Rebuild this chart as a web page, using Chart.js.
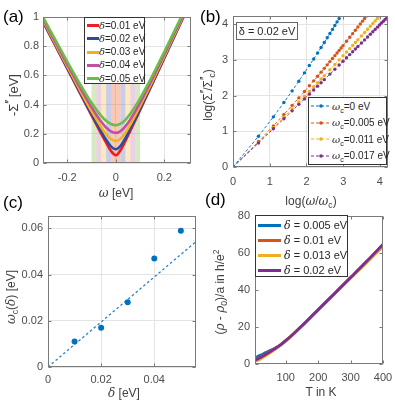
<!DOCTYPE html>
<html>
<head>
<meta charset="utf-8">
<script src="https://cdn.jsdelivr.net/npm/chart.js@4.4.1/dist/chart.umd.min.js"></script>
<style>
body { margin: 0; background: #fff; }
#fig { position: relative; width: 395px; height: 406px; overflow: hidden; background: #fff;
       font-family: "Liberation Sans", Arial, sans-serif; color: #404040; }
canvas { position: absolute; }
.lbl { position: absolute; white-space: nowrap; line-height: 1; }
.c { transform: translate(-50%, -50%); }
.r { transform: translate(-50%, -50%) rotate(-90deg); }
.pan { font-size: 17px; color: #000; }
.ax { font-size: 12px; }
.g { font-family: "DejaVu Serif", "Liberation Serif", serif; font-style: italic; }
.leg { position: absolute; background: #fff; border: 1px solid #333; box-sizing: border-box; }
.row { position: absolute; display: flex; align-items: center; white-space: nowrap; height: 12px; color: #262626; }
sub, sup { font-size: 72%; line-height: 0; }
sup.p { font-size: 100%; vertical-align: 0.25em; letter-spacing: -1px; }
</style>
</head>
<body>
<div id="fig">
  <canvas id="cA" width="197" height="192" style="left:0;top:0"></canvas>
  <canvas id="cB" width="198" height="190" style="left:197px;top:0"></canvas>
  <canvas id="cC" width="200" height="195" style="left:0;top:205px"></canvas>
  <canvas id="cD" width="195" height="195" style="left:200px;top:205px"></canvas>

  <div class="lbl pan" style="left:3px;top:8px">(a)</div>
  <div class="lbl pan" style="left:200px;top:8px">(b)</div>
  <div class="lbl pan" style="left:3px;top:194px">(c)</div>
  <div class="lbl pan" style="left:205px;top:191px">(d)</div>

  <div class="lbl ax r" style="left:13px;top:95px;font-size:13px">-Σ<sup class="p">′′</sup> [eV]</div>
  <div class="lbl ax c" style="left:116px;top:193px"><span class="g">ω</span> [eV]</div>
  <div class="lbl ax r" style="left:208px;top:95px">log(Σ<sup class="p">′′</sup>/Σ<sup class="p">′′</sup><sub>c</sub>)</div>
  <div class="lbl ax c" style="left:311px;top:201px">log(<span class="g">ω</span>/<span class="g">ω</span><sub>c</sub>)</div>
  <div class="lbl ax r" style="left:11px;top:297px"><span class="g">ω</span><sub>c</sub>(<span class="g">δ</span>) [eV]</div>
  <div class="lbl ax c" style="left:124px;top:393px"><span class="g">δ</span> [eV]</div>
  <div class="lbl ax r" style="left:220px;top:292px">(<span class="g">ρ</span> - <span class="g">ρ</span><sub>0</sub>)/a in h/e<sup>2</sup></div>
  <div class="lbl ax c" style="left:321px;top:392px">T in K</div>

  <div class="leg" id="legA" style="left:84px;top:17px;width:61px;height:67px"></div>
  <div class="leg" style="left:236px;top:22px;width:62px;height:18px;border-color:#666;font-size:11px;text-align:center;line-height:16px;color:#262626">δ = 0.02 eV</div>
  <div class="leg" id="legB" style="left:308px;top:97px;width:79px;height:68px"></div>
  <div class="leg" id="legD" style="left:255px;top:215px;width:93px;height:62px"></div>
</div>

<script>
// (a) -Sigma'' vs omega, one curve per delta
const omegaA = [-0.3, -0.25, -0.2, -0.15, -0.12, -0.09, -0.06, -0.04, -0.02, 0, 0.02, 0.04, 0.06, 0.09, 0.12, 0.15, 0.2, 0.25, 0.3];
const sigmaD01 = [0.967, 0.807, 0.646, 0.486, 0.390, 0.295, 0.200, 0.139, 0.083, 0.053, 0.089, 0.152, 0.221, 0.326, 0.433, 0.539, 0.718, 0.897, 1.075];
const sigmaD02 = [0.970, 0.810, 0.651, 0.492, 0.397, 0.305, 0.215, 0.159, 0.114, 0.094, 0.118, 0.171, 0.235, 0.335, 0.440, 0.545, 0.722, 0.900, 1.078];
const sigmaD03 = [0.978, 0.819, 0.662, 0.506, 0.414, 0.327, 0.245, 0.198, 0.164, 0.151, 0.167, 0.208, 0.263, 0.356, 0.456, 0.557, 0.732, 0.908, 1.084];
const sigmaD04 = [0.988, 0.831, 0.676, 0.525, 0.437, 0.356, 0.282, 0.243, 0.216, 0.206, 0.218, 0.251, 0.298, 0.382, 0.477, 0.575, 0.745, 0.918, 1.093];
const sigmaD05 = [1.000, 0.846, 0.694, 0.548, 0.465, 0.389, 0.323, 0.289, 0.267, 0.259, 0.269, 0.296, 0.337, 0.413, 0.502, 0.596, 0.762, 0.932, 1.105];
const deltaLabelsA = ['0.01', '0.02', '0.03', '0.04', '0.05'];
const bandInner = [0, 0.02, 0.04, 0.06, 0.08];
const bandOuter = [0.02, 0.04, 0.06, 0.08, 0.10];

// (b) log-log scaling, delta = 0.02 eV
const xB0 = [0, 0.693, 1.099, 1.386, 1.609, 1.792, 1.946, 2.079, 2.197, 2.303, 2.398, 2.485, 2.565, 2.639, 2.708, 2.773, 2.833, 2.890, 2.944];
const yB0 = [0, 0.861, 1.405, 1.808, 2.132, 2.404, 2.637, 2.842, 3.027, 3.195, 3.347, 3.488, 3.619, 3.741, 3.855, 3.964, 4.065, 4.162, 4.254];
const xB1 = [0, 0.693, 1.099, 1.386, 1.609, 1.792, 1.946, 2.079, 2.197, 2.303, 2.398, 2.485, 2.565, 2.639, 2.708, 2.773, 2.833, 2.890, 2.944, 2.996, 3.091, 3.178, 3.258, 3.332, 3.401, 3.466, 3.526, 3.584, 3.638];
const yB1 = [0, 0.715, 1.153, 1.472, 1.726, 1.936, 2.116, 2.274, 2.414, 2.541, 2.657, 2.763, 2.861, 2.952, 3.038, 3.119, 3.194, 3.266, 3.334, 3.400, 3.521, 3.633, 3.736, 3.832, 3.922, 4.007, 4.086, 4.162, 4.234];
const xB2 = [0, 0.693, 1.099, 1.386, 1.609, 1.792, 1.946, 2.079, 2.197, 2.303, 2.398, 2.485, 2.639, 2.773, 2.890, 2.996, 3.091, 3.178, 3.258, 3.332, 3.401, 3.497, 3.584, 3.664, 3.738, 3.807, 3.871, 3.932, 3.989, 4.043];
const yB2 = [0, 0.689, 1.101, 1.397, 1.629, 1.820, 1.983, 2.124, 2.250, 2.363, 2.465, 2.559, 2.725, 2.871, 2.999, 3.116, 3.220, 3.316, 3.405, 3.487, 3.564, 3.672, 3.769, 3.859, 3.943, 4.021, 4.093, 4.163, 4.228, 4.289];
const xB3 = [0, 0.693, 1.099, 1.386, 1.609, 1.792, 1.946, 2.079, 2.197, 2.303, 2.398, 2.485, 2.639, 2.773, 2.890, 2.996, 3.091, 3.178, 3.258, 3.332, 3.401, 3.497, 3.584, 3.664, 3.738, 3.807, 3.871, 3.932, 3.989, 4.043, 4.094, 4.143, 4.190, 4.234];
const yB3 = [0, 0.673, 1.070, 1.353, 1.573, 1.755, 1.908, 2.041, 2.159, 2.265, 2.360, 2.447, 2.602, 2.737, 2.856, 2.963, 3.059, 3.148, 3.229, 3.304, 3.375, 3.472, 3.561, 3.643, 3.719, 3.790, 3.855, 3.918, 3.977, 4.032, 4.085, 4.135, 4.184, 4.229];
const omegaCLabels = ['0', '0.005', '0.011', '0.017'];

// (c) omega_c vs delta
const deltaC = [0.01, 0.02, 0.03, 0.04, 0.05];
const omegaC = [0.011, 0.017, 0.028, 0.047, 0.059];
const fitX = [0, 0.0557];
const fitY = [0, 0.0543];

// (d) resistivity vs temperature
const tempD = [5, 15, 25, 35, 45, 55, 65, 75, 85, 100, 125, 150, 175, 200, 250, 300, 350, 400];
const rhoD005 = [3.2, 4.2, 5.0, 5.9, 6.8, 7.6, 8.4, 9.3, 10.5, 12.6, 16.5, 20.7, 25.0, 29.3, 38.0, 46.7, 55.5, 64.6];
const rhoD010 = [2.4, 3.1, 4.0, 5.0, 6.1, 7.2, 8.2, 9.3, 10.5, 12.6, 16.5, 20.7, 25.0, 29.3, 38.0, 46.6, 55.3, 64.2];
const rhoD013 = [1.4, 2.1, 3.0, 4.1, 5.2, 6.4, 7.7, 9.0, 10.4, 12.5, 16.4, 20.6, 24.9, 29.2, 37.8, 46.3, 54.9, 63.5];
const rhoD020 = [2.1, 2.9, 3.8, 4.8, 5.9, 7.0, 8.1, 9.3, 10.5, 12.6, 16.5, 20.7, 25.0, 29.3, 38.0, 46.7, 55.5, 64.6];
const deltaLabelsD = ['0.005', '0.01', '0.013', '0.02'];

const FONT = '"Liberation Sans", Arial, sans-serif';
const colorsA = ['#ee1d23', '#2e4a9c', '#f3b21b', '#c1519f', '#6cbd45'];
const bandColors = ['rgba(238,98,46,0.35)', 'rgba(98,112,189,0.35)', 'rgba(246,195,69,0.35)', 'rgba(201,121,178,0.35)', 'rgba(138,195,86,0.35)'];
const matlab = ['#0072bd', '#d95319', '#edb120', '#7e2f8e'];

Chart.defaults.animation = false;
Chart.defaults.font.family = FONT;

const toXY = (xs, ys) => xs.map((v, i) => ({ x: v, y: ys[i] }));

// box round the plot area + short inward ticks, like matlab
const boxPlugin = {
  id: 'box',
  afterDatasetsDraw(chart) {
    const { ctx, chartArea: a, scales: { x, y } } = chart;
    const L = Math.round(a.left) + 0.5, R = Math.round(a.right) - 0.5;
    const T = Math.round(a.top) + 0.5, B = Math.round(a.bottom) - 0.5;
    ctx.save();
    ctx.strokeStyle = '#7a7a7a';
    ctx.lineWidth = 1;
    ctx.strokeRect(L, T, R - L, B - T);
    ctx.beginPath();
    x.ticks.forEach(t => {
      const p = Math.round(x.getPixelForValue(t.value)) + 0.5;
      ctx.moveTo(p, B); ctx.lineTo(p, B - 3);
      ctx.moveTo(p, T); ctx.lineTo(p, T + 3);
    });
    y.ticks.forEach(t => {
      const p = Math.round(y.getPixelForValue(t.value)) + 0.5;
      ctx.moveTo(L, p); ctx.lineTo(L + 3, p);
      ctx.moveTo(R, p); ctx.lineTo(R - 3, p);
    });
    ctx.stroke();
    ctx.restore();
  }
};

// coloured omega windows behind the curves in (a)
const bandPlugin = {
  id: 'bands',
  beforeDatasetsDraw(chart) {
    const { ctx, scales: { x, y } } = chart;
    const top = y.getPixelForValue(1), bot = y.getPixelForValue(0);
    ctx.save();
    bandInner.forEach((w0, i) => {
      const w1 = bandOuter[i];
      ctx.fillStyle = bandColors[i];
      [[w0, w1], [-w1, -w0]].forEach(([u, v]) => {
        const p0 = x.getPixelForValue(u), p1 = x.getPixelForValue(v);
        ctx.fillRect(p0, top, p1 - p0, bot - top);
      });
    });
    ctx.restore();
  }
};

function axis(min, max, ticks, pad, grid, fit) {
  return {
    type: 'linear', min: min, max: max,
    grid: { display: grid, color: '#e4e4e4', drawTicks: false },
    border: { display: false },
    ticks: { padding: pad, autoSkip: false, maxRotation: 0, color: '#4d4d4d', font: { size: 11 }, callback: v => String(v) },
    afterBuildTicks: s => { s.ticks = ticks.map(v => ({ value: v })); },
    afterFit: s => {
      fit(s);
      s.paddingLeft = s.paddingRight = s.paddingTop = s.paddingBottom = 0;
    }
  };
}

// box = canvas position, area = wanted plot area (page pixels)
function painel(canvasId, box, area, xs, ys, datasets, extra) {
  const yW = area.left - box.x, xH = 20;
  // later series are drawn on top, as in matlab
  datasets.forEach((d, i) => { d.order = -i; });
  new Chart(document.getElementById(canvasId), {
    type: 'scatter',
    data: { datasets: datasets },
    options: {
      responsive: false,
      devicePixelRatio: 1,
      layout: { padding: { left: 0, top: area.top - box.y, right: box.x + box.w - area.right, bottom: box.y + box.h - area.bottom - xH } },
      plugins: { legend: { display: false }, tooltip: { enabled: false } },
      scales: {
        x: axis(xs.min, xs.max, xs.ticks, xs.pad, xs.grid, s => { s.height = xH; }),
        y: axis(ys.min, ys.max, ys.ticks, ys.pad, ys.grid, s => { s.width = yW; })
      }
    },
    plugins: [boxPlugin].concat(extra || [])
  });
}

const lineSet = (xs, ys, color, width) => ({
  data: toXY(xs, ys), showLine: true, borderColor: color, borderWidth: width,
  pointRadius: 0, cubicInterpolationMode: 'monotone', clip: 0
});

painel('cA', { x: 0, y: 0, w: 197, h: 192 }, { left: 43, top: 17, right: 191, bottom: 163 },
  { min: -0.3, max: 0.31, ticks: [-0.2, 0, 0.2], pad: 8, grid: true },
  { min: 0, max: 1, ticks: [0, 0.2, 0.4, 0.6, 0.8, 1], pad: 4, grid: true },
  [sigmaD01, sigmaD02, sigmaD03, sigmaD04, sigmaD05].map((s, i) => lineSet(omegaA, s, colorsA[i], 2.6)),
  [bandPlugin]);

painel('cB', { x: 197, y: 0, w: 198, h: 190 }, { left: 233, top: 16, right: 388, bottom: 167 },
  { min: 0, max: 4.22, ticks: [0, 1, 2, 3, 4], pad: 8, grid: true },
  { min: 0, max: 4.23, ticks: [0, 1, 2, 3, 4], pad: 5, grid: true },
  [[xB0, yB0], [xB1, yB1], [xB2, yB2], [xB3, yB3]].map((p, i) => ({
    data: toXY(p[0], p[1]), showLine: true, borderColor: matlab[i], borderWidth: 0.9, borderDash: [3, 2],
    pointRadius: 1.7, pointBackgroundColor: matlab[i], pointBorderWidth: 0, clip: 0
  })));

painel('cC', { x: 0, y: 205, w: 200, h: 195 }, { left: 48, top: 216, right: 200, bottom: 367 },
  { min: 0, max: 0.0557, ticks: [0, 0.02, 0.04], pad: 6, grid: true },
  { min: 0, max: 0.0654, ticks: [0, 0.02, 0.04, 0.06], pad: 5, grid: true },
  [
    { data: toXY(fitX, fitY), showLine: true, borderColor: '#2a80c8', borderWidth: 1.3, borderDash: [2.5, 2.5], pointRadius: 0, clip: 0 },
    { data: toXY(deltaC, omegaC), pointRadius: 3, pointBackgroundColor: '#0072bd', pointBorderWidth: 0, clip: 0 }
  ]);

painel('cD', { x: 200, y: 205, w: 195, h: 195 }, { left: 255, top: 216, right: 383, bottom: 364 },
  { min: 5, max: 400, ticks: [100, 200, 300, 400], pad: 7, grid: false },
  { min: 0, max: 80, ticks: [0, 20, 40, 60, 80], pad: 5, grid: false },
  [rhoD005, rhoD010, rhoD013, rhoD020].map((r, i) => lineSet(tempD, r, matlab[i], 2.8)));

// legends (html so that sub/superscripts work)
function legenda(id, rows, top0, step, swatch, textLeft, size) {
  const el = document.getElementById(id);
  rows.forEach((html, i) => {
    const r = document.createElement('div');
    r.className = 'row';
    r.style.top = (top0 + i * step - 6) + 'px';
    r.style.left = '0px';
    r.style.fontSize = size + 'px';
    r.innerHTML = swatch(i) + '<span style="position:absolute;left:' + textLeft + 'px">' + html + '</span>';
    el.appendChild(r);
  });
}

legenda('legA', deltaLabelsA.map(d => '<span class="g">δ</span>=' + d + ' eV'), 7, 13.3,
  i => '<span style="position:absolute;left:2px;top:5px;width:12px;height:3px;background:' + colorsA[i] + '"></span>', 14, 10);

legenda('legB', omegaCLabels.map(w => '<span class="g">ω</span><sub>c</sub>=' + w + ' eV'), 8, 16.6,
  i => '<svg style="position:absolute;left:2px;top:1px" width="20" height="10"><line x1="0" y1="5" x2="20" y2="5" stroke="' + matlab[i] +
       '" stroke-width="1" stroke-dasharray="3,2"/><circle cx="10" cy="5" r="1.8" fill="' + matlab[i] + '"/></svg>', 23, 10);

legenda('legD', deltaLabelsD.map(d => '<span class="g">δ</span> = ' + d + ' eV'), 9, 15,
  i => '<span style="position:absolute;left:2px;top:5px;width:23px;height:3px;background:' + matlab[i] + '"></span>', 28, 11);
</script>
</body>
</html>
